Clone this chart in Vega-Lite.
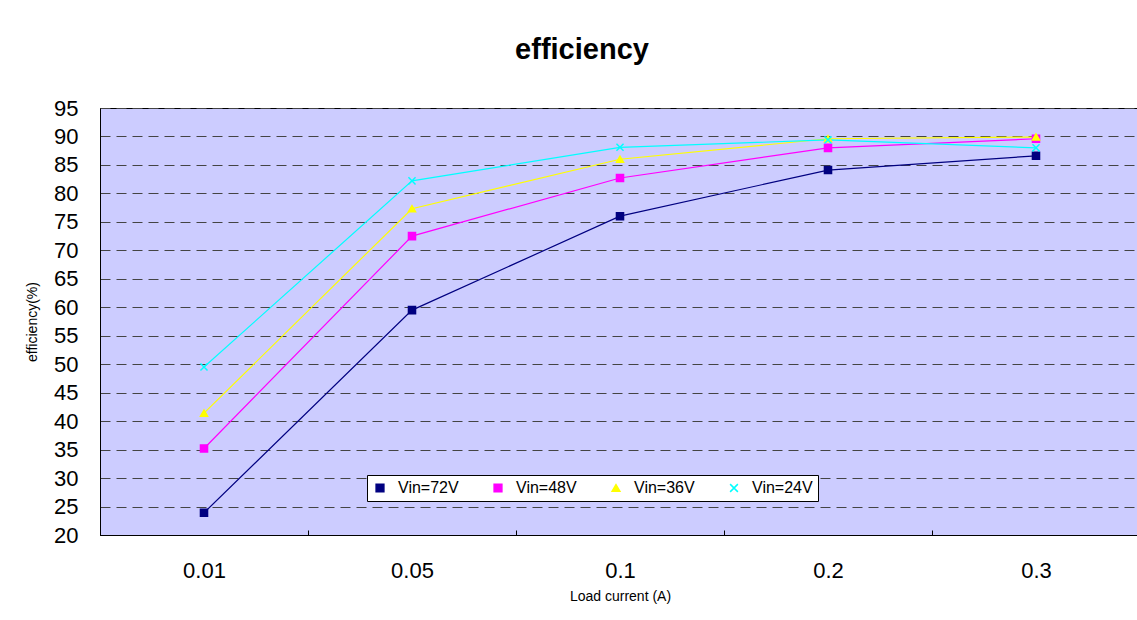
{
  "$schema": "https://vega.github.io/schema/vega-lite/v6.json",
  "autosize": {"type": "none"},
  "width": 1040,
  "height": 427,
  "padding": {"left": 100, "top": 108, "right": 0, "bottom": 85},
  "background": "white",
  "config": {
    "font": "Liberation Sans",
    "view": {"fill": "#CCCCFF", "stroke": "#000000", "strokeWidth": 1}
  },
  "title": {
    "text": "efficiency",
    "fontSize": 29,
    "fontWeight": "bold",
    "font": "Liberation Sans",
    "color": "#000000",
    "anchor": "middle",
    "dx": -38,
    "offset": 32
  },
  "data": {
    "values": [
      {"load": "0.01", "series": "Vin=72V", "eff": 23.9},
      {"load": "0.05", "series": "Vin=72V", "eff": 59.5},
      {"load": "0.1", "series": "Vin=72V", "eff": 76.0},
      {"load": "0.2", "series": "Vin=72V", "eff": 84.1},
      {"load": "0.3", "series": "Vin=72V", "eff": 86.6},
      {"load": "0.01", "series": "Vin=48V", "eff": 35.2},
      {"load": "0.05", "series": "Vin=48V", "eff": 72.5},
      {"load": "0.1", "series": "Vin=48V", "eff": 82.7},
      {"load": "0.2", "series": "Vin=48V", "eff": 88.0},
      {"load": "0.3", "series": "Vin=48V", "eff": 89.6},
      {"load": "0.01", "series": "Vin=36V", "eff": 41.4},
      {"load": "0.05", "series": "Vin=36V", "eff": 77.3},
      {"load": "0.1", "series": "Vin=36V", "eff": 86.0},
      {"load": "0.2", "series": "Vin=36V", "eff": 89.6},
      {"load": "0.3", "series": "Vin=36V", "eff": 89.9},
      {"load": "0.01", "series": "Vin=24V", "eff": 49.5},
      {"load": "0.05", "series": "Vin=24V", "eff": 82.2},
      {"load": "0.1", "series": "Vin=24V", "eff": 88.1},
      {"load": "0.2", "series": "Vin=24V", "eff": 89.4},
      {"load": "0.3", "series": "Vin=24V", "eff": 88.0}
    ]
  },
  "encoding": {
    "x": {
      "field": "load",
      "type": "ordinal",
      "sort": ["0.01", "0.05", "0.1", "0.2", "0.3"],
      "scale": {"paddingInner": 0, "paddingOuter": 0},
      "axis": {
        "title": "Load current (A)",
        "titleFontSize": 14,
        "titleFontWeight": "normal",
        "titleColor": "#000000",
        "titlePadding": 8,
        "labelAngle": 0,
        "labelFontSize": 22,
        "labelColor": "#000000",
        "labelPadding": 30,
        "tickBand": "extent",
        "tickSize": -5,
        "tickColor": "#000000",
        "domainColor": "#000000",
        "grid": false
      }
    },
    "y": {
      "field": "eff",
      "type": "quantitative",
      "scale": {"domain": [20, 95], "nice": false, "zero": false},
      "axis": {
        "title": "efficiency(%)",
        "titleFontSize": 14,
        "titleFontWeight": "normal",
        "titleColor": "#000000",
        "titlePadding": 14,
        "values": [20, 25, 30, 35, 40, 45, 50, 55, 60, 65, 70, 75, 80, 85, 90, 95],
        "labelFontSize": 22,
        "labelColor": "#000000",
        "labelPadding": 22,
        "ticks": false,
        "domainColor": "#000000",
        "grid": true,
        "gridColor": "#444444",
        "gridDash": [10, 6],
        "gridWidth": 1.2
      }
    },
    "color": {
      "field": "series",
      "type": "nominal",
      "scale": {
        "domain": ["Vin=72V", "Vin=48V", "Vin=36V", "Vin=24V"],
        "range": ["#000080", "#FF00FF", "#FFFF00", "#00FFFF"]
      },
      "legend": {
        "title": null,
        "orient": "none",
        "legendX": 267,
        "legendY": 367,
        "direction": "horizontal",
        "columns": 4,
        "fillColor": "#FFFFFF",
        "strokeColor": "#000000",
        "padding": 5,
        "labelFontSize": 16,
        "labelColor": "#000000",
        "symbolSize": 60,
        "columnPadding": 31,
        "labelOffset": 10
      }
    }
  },
  "layer": [
    {
      "mark": {"type": "line", "strokeWidth": 1.2}
    },
    {
      "mark": {"type": "point", "filled": true, "size": 50, "strokeWidth": 1.5, "opacity": 1},
      "encoding": {
        "stroke": {
          "field": "series",
          "type": "nominal",
          "scale": {
            "domain": ["Vin=72V", "Vin=48V", "Vin=36V", "Vin=24V"],
            "range": ["#000080", "#FF00FF", "#FFFF00", "#00FFFF"]
          },
          "legend": null
        },
        "shape": {
          "field": "series",
          "type": "nominal",
          "scale": {
            "domain": ["Vin=72V", "Vin=48V", "Vin=36V", "Vin=24V"],
            "range": ["square", "square", "triangle-up", "M-1,-1L1,1M-1,1L1,-1"]
          },
          "legend": {
            "title": null,
            "orient": "none",
            "legendX": 267,
            "legendY": 367,
            "direction": "horizontal",
            "columns": 4,
            "fillColor": "#FFFFFF",
            "strokeColor": "#000000",
            "padding": 5,
            "labelFontSize": 16,
            "labelColor": "#000000",
            "symbolSize": 60,
            "columnPadding": 31,
            "labelOffset": 10
          }
        }
      }
    }
  ]
}
